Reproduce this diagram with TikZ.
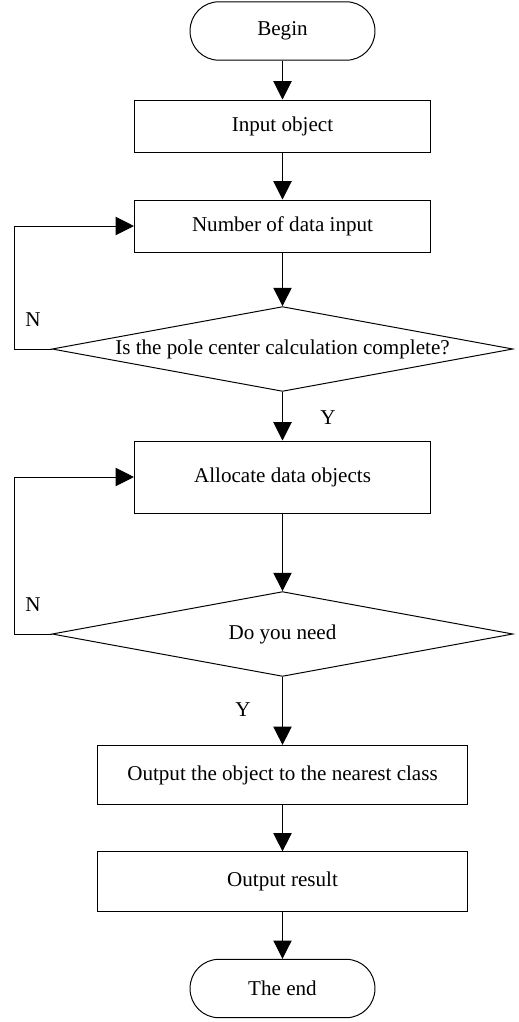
\documentclass[tikz,border=0pt]{standalone}
\usepackage{fontspec}
\setmainfont{Liberation Serif}
\usetikzlibrary{positioning, shapes.geometric, arrows.meta}

\begin{document}
\begin{tikzpicture} [x=0.025cm, y=-0.025cm, line width=0.7pt,
  font=\fontsize{15}{18}\selectfont,
  term/.style={rectangle, rounded corners=0.72cm, minimum width=4.62cm, minimum height=1.46cm, draw},
  proc/.style={rectangle, minimum width=7.4cm, minimum height=1.3cm, draw},
  dec/.style={diamond, minimum width=11.52cm, minimum height=2.12cm, inner sep=0pt, draw},
  >={Triangle[length=13pt, width=13pt]}]
  \useasboundingbox (0,0) rectangle (519,1022);
  \draw (282.5,31)   node[term](bgn)  {Begin};
  \draw (282.5,126)  node[proc](inp)  {Input object};
  \draw (282.5,226)  node[proc](num)  {Number of data input};
  \draw (282.5,349)  node[dec, label={center:Is the pole center calculation complete?}](pole) {};
  \draw (282.5,477)  node[proc, minimum height=1.8cm](alc) {Allocate data objects};
  \draw (282.5,634)  node[dec, label={center:Do you need}](need) {};
  \draw (282.5,775)  node[proc, minimum width=9.24cm, minimum height=1.48cm](out) {Output the object to the nearest class};
  \draw (282.5,881.5) node[proc, minimum width=9.24cm, minimum height=1.48cm](res) {Output result};
  \draw (282.5,988.5) node[term](fin)  {The end};

  \node (n1) at (33,320) {N};
  \node (y1) at (328,418) {Y};
  \node (n2) at (33,605) {N};
  \node (y2) at (243,710) {Y};

\path (bgn)  edge[->] (inp)
      (inp)  edge[->] (num)
      (num)  edge[->] (pole)
      (pole) edge[->] (alc)
      (alc)  edge[->] (need)
      (need) edge[->] (out)
      (out)  edge[->] (res)
      (res)  edge[->] (fin);
\draw[->] (pole.west) -- ++(-37,0) |- (num.west);
\draw[->] (need.west) -- ++(-37,0) |- (alc.west);
\end{tikzpicture}
\end{document}
